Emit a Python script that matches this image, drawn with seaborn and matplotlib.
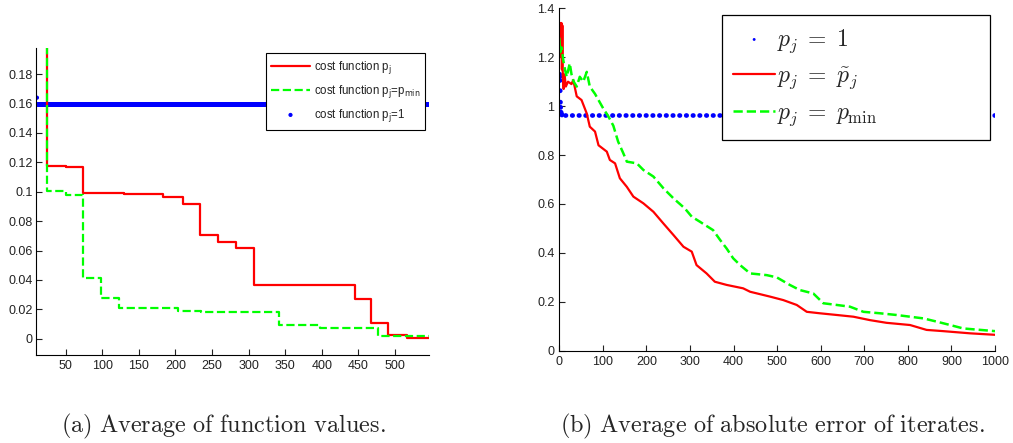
import numpy as np
import pandas as pd
import matplotlib
matplotlib.use("Agg")
import matplotlib.pyplot as plt
import seaborn as sns

# (a) average of function values, step data (x where the level starts, level)
red_a_x = [25, 25, 50, 74, 130, 183, 210, 233, 258, 283, 308, 445, 467, 491, 517, 546]
red_a_y = [0.35, 0.1177, 0.1168, 0.0993, 0.0985, 0.0966, 0.0918, 0.0707, 0.0655, 0.0615,
           0.0365, 0.0268, 0.0105, 0.0023, 0.0003, 0.0003]
green_a_x = [25, 25, 50, 73, 98, 123, 203, 235, 342, 397, 477, 546]
green_a_y = [0.35, 0.1005, 0.0975, 0.041, 0.0275, 0.0207, 0.0188, 0.018, 0.0091, 0.0071,
             0.0018, 0.0018]
blue_a_x = [11, 546]
blue_a_y = [0.16, 0.16]
blue_a_first_x = [10.7]
blue_a_first_y = [0.164]

# (b) average of absolute error of iterates
red_b_x = [1, 2, 3, 4, 5, 6, 7, 8, 10, 12, 15, 20, 28, 32, 40, 51, 63, 70, 82, 90, 109, 116,
           128, 139, 155, 170, 193, 216, 239, 262, 285, 304, 315, 338, 357, 384, 422, 438,
           484, 514, 545, 568, 598, 637, 675, 713, 751, 805, 843, 881, 943, 1000]
red_b_y = [1.25, 1.34, 1.33, 1.2, 1.34, 1.15, 1.33, 1.12, 1.07, 1.13, 1.08, 1.10, 1.09, 1.107,
           1.04, 1.025, 0.97, 0.916, 0.896, 0.84, 0.814, 0.78, 0.766, 0.705, 0.67, 0.63,
           0.6025, 0.568, 0.52, 0.473, 0.425, 0.405, 0.35, 0.316, 0.282, 0.269, 0.255, 0.241,
           0.221, 0.207, 0.187, 0.159, 0.153, 0.146, 0.139, 0.125, 0.114, 0.105, 0.085, 0.080,
           0.071, 0.065]
green_b_x = [0, 2, 5, 9, 13, 17, 24, 28, 33, 40, 47, 55, 63, 70, 82, 101, 112, 124, 135, 147,
             155, 178, 193, 216, 239, 262, 288, 304, 323, 353, 369, 384, 399, 415, 438, 476,
             499, 529, 552, 583, 606, 637, 667, 698, 736, 774, 805, 836, 866, 897, 927, 1000]
green_b_y = [1.28, 1.22, 1.24, 1.19, 1.15, 1.12, 1.175, 1.13, 1.10, 1.08, 1.12, 1.10, 1.14,
             1.08, 1.05, 0.99, 0.96, 0.92, 0.855, 0.807, 0.773, 0.766, 0.739, 0.712, 0.664,
             0.623, 0.582, 0.548, 0.527, 0.493, 0.453, 0.418, 0.378, 0.35, 0.316, 0.309, 0.300,
             0.269, 0.248, 0.234, 0.194, 0.187, 0.18, 0.159, 0.153, 0.146, 0.139, 0.132, 0.119,
             0.105, 0.091, 0.080]
blue_b_x = [0, 0, 0.5, 1, 1.5, 2, 2.5, 3, 4, 5, 6]
blue_b_y = [1.30, 1.226, 1.13, 1.12, 1.105, 1.063, 1.016, 0.995, 0.975, 0.968, 0.964]
blue_b_flat_x = [14, 1000]
blue_b_flat_y = [0.964, 0.964]

xticks_a = [50, 100, 150, 200, 250, 300, 350, 400, 450, 500]
yticks_a = [0, 0.02, 0.04, 0.06, 0.08, 0.1, 0.12, 0.14, 0.16, 0.18]
xticks_b = [0, 100, 200, 300, 400, 500, 600, 700, 800, 900, 1000]
yticks_b = [0, 0.2, 0.4, 0.6, 0.8, 1, 1.2, 1.4]

sns.set_theme(style="ticks")
plt.rcParams['font.family'] = ['Liberation Sans', 'DejaVu Sans']
plt.rcParams['mathtext.fontset'] = 'cm'
plt.rcParams['axes.edgecolor'] = 'black'
plt.rcParams['axes.linewidth'] = 0.8

fig = plt.figure(figsize=(10.13, 4.43), dpi=100)
ax1 = fig.add_axes([0.03554, 0.19797, 0.38796, 0.69436])
ax2 = fig.add_axes([0.55212, 0.20835, 0.43011, 0.77291])

# ---- panel (a)
sns.lineplot(x=blue_a_x, y=blue_a_y, ax=ax1, color='blue', lw=3.6, estimator=None,
             sort=False, solid_capstyle='round')
sns.lineplot(x=red_a_x, y=red_a_y, ax=ax1, color='red', lw=1.6, estimator=None, sort=False,
             drawstyle='steps-post', label='cost function p$_\\mathrm{j}$')
sns.lineplot(x=green_a_x, y=green_a_y, ax=ax1, color='#00ff00', lw=1.6, estimator=None,
             sort=False, drawstyle='steps-post', linestyle='--',
             label='cost function p$_\\mathrm{j}$=p$_\\mathrm{min}$')
sns.scatterplot(x=blue_a_first_x, y=blue_a_first_y, ax=ax1, color='blue', marker='o', s=9,
                edgecolor='none', label='cost function p$_\\mathrm{j}$=1')

ax1.set_xlim(9.4, 546.5)
ax1.set_ylim(-0.0113, 0.198)
ax1.set_xticks(xticks_a)
ax1.set_yticks(yticks_a)
ax1.set_yticklabels(['%g' % v for v in yticks_a])
ax1.tick_params(direction='in', length=4, width=0.8, labelsize=9, colors='#222222', pad=2.5)
ax1.tick_params(axis='x', pad=3.5)
sns.despine(ax=ax1)

leg1 = ax1.legend(loc='upper left', bbox_to_anchor=(0.5845, 0.7487, 0.4061, 0.2341),
                  mode='expand', borderaxespad=0, fontsize=8.3, frameon=True, fancybox=False,
                  framealpha=1, handlelength=3.3, handletextpad=0.4, labelspacing=0.62,
                  borderpad=0.5)
leg1.get_frame().set_edgecolor('black')
leg1.get_frame().set_linewidth(0.8)
for t in leg1.get_texts():
    t.set_math_fontfamily('dejavusans')
    t.set_color('#222222')

# ---- panel (b)
sns.lineplot(x=blue_b_flat_x, y=blue_b_flat_y, ax=ax2, color='blue', lw=3.4, estimator=None,
             sort=False, linestyle=(0, (0.1, 1.32)), dash_capstyle='round')
sns.scatterplot(x=blue_b_x, y=blue_b_y, ax=ax2, color='blue', marker='o', s=12,
                edgecolor='none', label='$p_j\\;=\\;1$')
sns.lineplot(x=red_b_x, y=red_b_y, ax=ax2, color='red', lw=1.6, estimator=None, sort=False,
             label='$p_j\\;=\\;\\tilde{p}_j$')
sns.lineplot(x=green_b_x, y=green_b_y, ax=ax2, color='#00ff00', lw=1.8, estimator=None,
             sort=False, linestyle='--', label='$p_j\\;=\\;p_\\mathrm{min}$')

ax2.set_xlim(0, 1000)
ax2.set_ylim(0, 1.4)
ax2.set_xticks(xticks_b)
ax2.set_yticks(yticks_b)
ax2.set_yticklabels(['%g' % v for v in yticks_b])
ax2.tick_params(direction='in', length=4, width=0.8, labelsize=9, colors='#222222', pad=3.5)
sns.despine(ax=ax2)

leg2 = ax2.legend(loc='upper left', bbox_to_anchor=(0.3727, 0.6235, 0.6163, 0.3559),
                  mode='expand', borderaxespad=0, fontsize=17, frameon=True, fancybox=False,
                  framealpha=1, handlelength=1.75, handletextpad=0.1, labelspacing=0.45,
                  borderpad=0.5, markerscale=0.6)
leg2.get_frame().set_edgecolor('black')
leg2.get_frame().set_linewidth(0.9)

# captions
fig.text(0.2201, 0.0248, r"$\mathrm{(a)\ Average\ of\ function\ values.}$", ha='center',
         va='baseline', fontsize=17.5)
fig.text(0.7626, 0.0248, r"$\mathrm{(b)\ Average\ of\ absolute\ error\ of\ iterates.}$",
         ha='center', va='baseline', fontsize=17.5)

fig.savefig('out.png', dpi=100, facecolor='white')
